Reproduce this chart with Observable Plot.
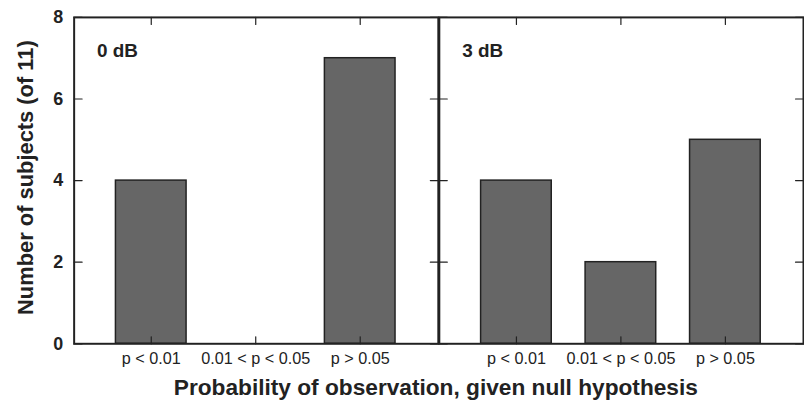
<!DOCTYPE html>
<html>
<head>
<meta charset="utf-8">
<script src="https://cdn.jsdelivr.net/npm/d3@7"></script>
<script src="https://cdn.jsdelivr.net/npm/@observablehq/plot@0.6"></script>
<style>
  html, body { margin: 0; padding: 0; background: #fff; overflow: hidden; }
  #chart { width: 804px; height: 402px; overflow: hidden; }
  svg { font-family: "Liberation Sans", Arial, Helvetica, sans-serif; }
</style>
</head>
<body>
<div id="chart"></div>
<script>
const panels = ["0 dB", "3 dB"];
const categories = ["p < 0.01", "0.01 < p < 0.05", "p > 0.05"];
const counts0dB = [4, 0, 7];
const counts3dB = [4, 2, 5];
const yTicks = [0, 2, 4, 6, 8];
const yTitle = "Number of subjects (of 11)";
const xTitle = "Probability of observation, given null hypothesis";

const seriesByPanel = {"0 dB": counts0dB, "3 dB": counts3dB};
const table = panels.flatMap(p => categories.map((c, i) => ({panel: p, cat: c, value: seriesByPanel[p][i]})));

const ink = "#222";
const tickShape = {draw(context, l) { context.moveTo(0, 0); context.lineTo(0, -l); }};

const chart = Plot.plot({
  width: 808,
  height: 402,
  marginLeft: 73,
  marginRight: 1,
  marginTop: 17,
  marginBottom: 57,
  style: {fontFamily: '"Liberation Sans", Arial, Helvetica, sans-serif', color: ink, background: "#fff", overflow: "visible"},
  fx: {domain: panels, paddingInner: 0.004, paddingOuter: 0, axis: null},
  x: {domain: categories, paddingInner: 0.32, paddingOuter: 0.39},
  y: {domain: [0, 8]},
  marks: [
    Plot.barY(table, {fx: "panel", x: "cat", y: "value", fill: "#666", stroke: ink, strokeWidth: 1.5}),
    Plot.vector(yTicks, {y: d => d, frameAnchor: "left", rotate: 90, length: 8, anchor: "start", shape: tickShape, stroke: ink, strokeWidth: 1.2}),
    Plot.vector(yTicks, {y: d => d, frameAnchor: "right", rotate: -90, length: 8, anchor: "start", shape: tickShape, stroke: ink, strokeWidth: 1.2}),
    Plot.vector(categories, {x: d => d, frameAnchor: "top", rotate: 180, length: 7, anchor: "start", shape: tickShape, stroke: ink, strokeWidth: 1.2}),
    Plot.vector(categories, {x: d => d, frameAnchor: "bottom", rotate: 0, length: 7, anchor: "start", shape: tickShape, stroke: ink, strokeWidth: 1.2}),
    Plot.frame({stroke: ink, strokeWidth: 2}),
    Plot.axisY({ticks: yTicks, tickSize: 0, tickPadding: 11, fontSize: 18, fontWeight: "bold", label: null, fill: ink}),
    Plot.axisX({tickSize: 0, tickPadding: 9, fontSize: 16.3, label: null, fill: ink}),
    Plot.text(panels, {fx: d => d, text: d => d, frameAnchor: "top-left", dx: 23, dy: 26.5, lineAnchor: "top", textAnchor: "start", fontSize: 19, fontWeight: "bold", fill: ink}),
    Plot.text([xTitle], {text: d => d, facet: "super", frameAnchor: "bottom", dx: -3, dy: 35, lineAnchor: "top", textAnchor: "middle", fontSize: 22.8, fontWeight: "bold", fill: ink}),
    Plot.text([yTitle], {text: d => d, facet: "super", frameAnchor: "left", rotate: -90, dx: -57, dy: -3, lineAnchor: "top", textAnchor: "middle", fontSize: 22, fontWeight: "bold", fill: ink})
  ]
});
document.getElementById("chart").appendChild(chart);
</script>
</body>
</html>
